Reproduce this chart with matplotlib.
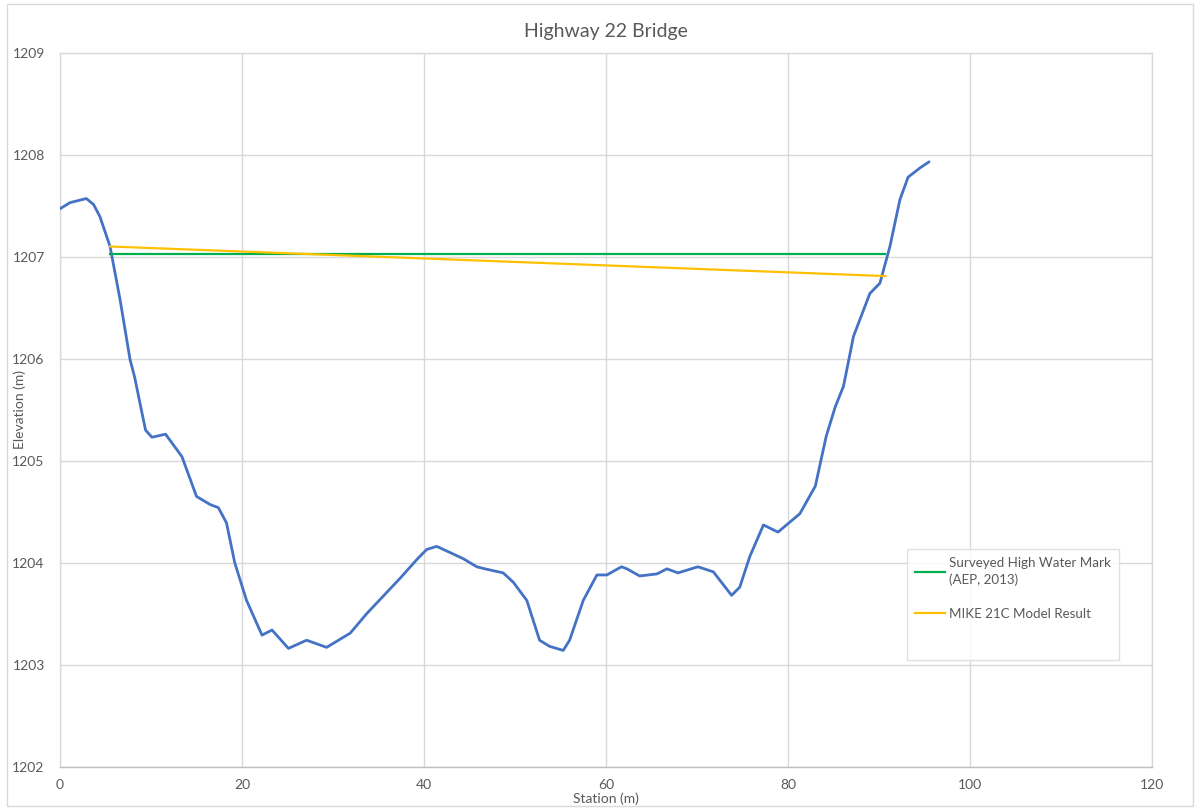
import matplotlib.pyplot as plt
from matplotlib.patches import Rectangle

plt.rcParams['font.family'] = ['Lato', 'DejaVu Sans']

# Ground profile across the bridge section
station = [0.0, 1.1, 2.0, 2.9, 3.7, 4.4, 5.5, 6.6, 7.7, 8.2, 9.4, 10.1, 11.6, 13.4, 15.0,
           16.5, 17.4, 18.3, 19.2, 20.5, 22.2, 23.3, 25.1, 27.1, 29.3, 31.9, 33.7,
           37.4, 39.2, 40.3, 41.4, 44.3, 45.8, 46.7, 48.7, 49.8, 51.3, 52.7, 53.8,
           55.3, 56.0, 57.5, 59.0, 60.1, 61.7, 62.3, 63.7, 65.6, 66.7, 67.9, 70.1,
           71.8, 73.8, 74.7, 75.8, 77.3, 78.9, 81.3, 83.0, 84.2, 85.2, 86.1, 87.2,
           89.0, 90.1, 91.2, 92.3, 93.2, 94.5, 95.5]
elevation = [1207.47, 1207.53, 1207.55, 1207.57, 1207.51, 1207.39, 1207.10, 1206.58,
             1205.99, 1205.82, 1205.30, 1205.23, 1205.26, 1205.04, 1204.65, 1204.57,
             1204.54, 1204.39, 1204.00, 1203.63, 1203.29, 1203.34, 1203.16, 1203.24,
             1203.17, 1203.31, 1203.50, 1203.85, 1204.03, 1204.13, 1204.16, 1204.04,
             1203.96, 1203.94, 1203.90, 1203.81, 1203.63, 1203.24, 1203.18, 1203.14,
             1203.24, 1203.63, 1203.88, 1203.88, 1203.96, 1203.94, 1203.87, 1203.89,
             1203.94, 1203.90, 1203.96, 1203.91, 1203.68, 1203.76, 1204.06, 1204.37,
             1204.30, 1204.48, 1204.75, 1205.24, 1205.53, 1205.73, 1206.22, 1206.64,
             1206.74, 1207.10, 1207.56, 1207.78, 1207.87, 1207.93]

# Water levels
hwm_station = [5.5, 90.7]
hwm_level = [1207.03, 1207.03]
model_station = [5.5, 90.7]
model_level = [1207.10, 1206.81]

grey = '#595959'
grid_col = '#D9D9D9'

fig = plt.figure(figsize=(12, 8.08), dpi=100)
ax = fig.add_axes([0.05, 0.0511, 0.91, 0.8837])

ax.plot(station, elevation, color='#4472C4', lw=2.0, solid_capstyle='round',
        solid_joinstyle='round', zorder=3)
l1, = ax.plot(hwm_station, hwm_level, color='#00B050', lw=1.6, zorder=4,
              label='Surveyed High Water Mark\n(AEP, 2013)')
l2, = ax.plot(model_station, model_level, color='#FFC000', lw=1.6, zorder=4,
              label='MIKE 21C Model Result')
blank, = ax.plot([], [], color='none', label=' ')

ax.set_xlim(0, 120)
ax.set_ylim(1202, 1209)
ax.set_xticks(range(0, 121, 20))
ax.set_yticks(range(1202, 1210))
ax.grid(True, color=grid_col, lw=1.0)
ax.set_axisbelow(True)
for s in ax.spines.values():
    s.set_color(grid_col)
    s.set_linewidth(1.0)
ax.spines['bottom'].set_color('#BFBFBF')
ax.tick_params(length=0, labelsize=10, labelcolor=grey)
ax.tick_params(axis='x', pad=9)
ax.tick_params(axis='y', pad=11)

ax.set_xlabel('Station (m)', fontsize=10, color=grey, labelpad=1)
fig.text(20 / 1200, 0.493, 'Elevation (m)', rotation=90, ha='center', va='center',
         fontsize=10, color=grey)
fig.text(0.505, 0.961, 'Highway 22 Bridge', ha='center', va='center',
         fontsize=14, color=grey)

leg = ax.legend(handles=[l1, l2, blank], loc='lower left', bbox_to_anchor=(0.776, 0.149),
                frameon=True, fancybox=False, fontsize=9.6, labelcolor=grey,
                handlelength=2.3, handletextpad=0.3, labelspacing=1.6,
                borderpad=0.55, borderaxespad=0)
for t in leg.get_texts():
    t.set_linespacing(1.5)
leg.get_frame().set_edgecolor(grid_col)
leg.get_frame().set_linewidth(1.0)

# outer chart border
fig.patches.append(Rectangle((0.006, 0.003), 0.988, 0.992, transform=fig.transFigure,
                             fill=False, edgecolor=grid_col, lw=1.0))

fig.savefig('out.png', dpi=100)
